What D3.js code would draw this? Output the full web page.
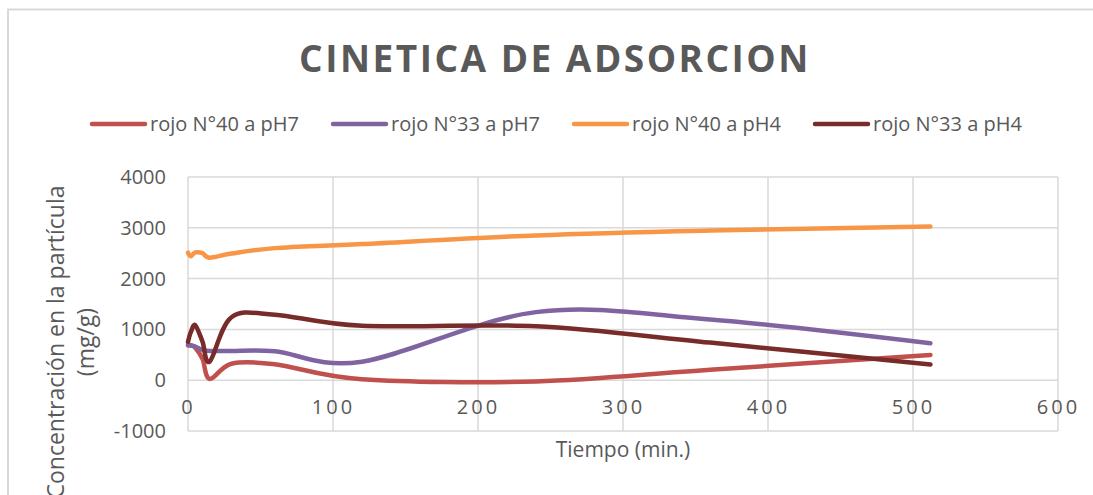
<!DOCTYPE html>
<html>
<head>
<meta charset="utf-8">
<script src="https://cdn.jsdelivr.net/npm/d3@7"></script>
<style>
  html, body { margin: 0; padding: 0; background: #fff; }
  svg { display: block; }
  text { font-family: "Open Sans", "Noto Sans", sans-serif; fill: #595959; }
</style>
</head>
<body>
<svg id="chart" width="1093" height="495"></svg>
<script>
// Sampling times (min.)
const tiempos = [0, 2, 5, 10, 15, 30, 60, 120, 240, 360, 512];

// Adsorbed concentration (mg/g) for each dye / pH
const rojo40pH7 = [689, 680, 640, 420, 25, 325, 315, 20, -25, 205, 498];
const rojo33pH7 = [689, 690, 660, 600, 577, 577, 571, 365, 1340, 1196, 728];
const rojo40pH4 = [2510, 2440, 2515, 2500, 2412, 2494, 2600, 2680, 2850, 2945, 3025];
const rojo33pH4 = [754, 950, 1083, 760, 370, 1240, 1290, 1070, 1060, 740, 309];

const seriesNames = ["rojo N°40 a pH7", "rojo N°33 a pH7", "rojo N°40 a pH4", "rojo N°33 a pH4"];
const seriesValues = [rojo40pH7, rojo33pH7, rojo40pH4, rojo33pH4];
const seriesColors = ["#C0504D", "#8064A2", "#F79646", "#772C2A"];

const xTicks = [0, 100, 200, 300, 400, 500, 600];
const yTicks = [-1000, 0, 1000, 2000, 3000, 4000];

const svg = d3.select("#chart");

// chart frame
svg.append("path")
  .attr("d", "M8,496 V9.5 H1093")
  .attr("fill", "none")
  .attr("stroke", "#D9D9D9")
  .attr("stroke-width", 2);

const plot = { left: 188, right: 1058, top: 177, bottom: 431 };

const x = d3.scaleLinear().domain([0, 600]).range([plot.left, plot.right]);
const y = d3.scaleLinear().domain([-1000, 4000]).range([plot.bottom, plot.top]);

// plain hyphen for negatives
const fmt = d => String(d);

// title
svg.append("text")
  .attr("x", 555).attr("y", 72)
  .attr("text-anchor", "middle")
  .attr("font-size", 37)
  .attr("font-weight", "bold")
  .attr("letter-spacing", 2.5)
  .text("CINETICA DE ADSORCION");

// gridlines
const grid = svg.append("g");
grid.selectAll("line.h").data(yTicks).join("line")
  .attr("class", "h")
  .attr("x1", plot.left).attr("x2", plot.right)
  .attr("y1", d => y(d)).attr("y2", d => y(d))
  .attr("stroke", "#D9D9D9").attr("stroke-width", 1.5);
grid.selectAll("line.v").data(xTicks).join("line")
  .attr("class", "v")
  .attr("x1", d => x(d)).attr("x2", d => x(d))
  .attr("y1", plot.top).attr("y2", plot.bottom)
  .attr("stroke", "#D9D9D9").attr("stroke-width", 1.5);

// axes (labels only)
const yAxis = svg.append("g")
  .attr("transform", `translate(${plot.left - 22},0)`)
  .call(d3.axisLeft(y).tickValues(yTicks).tickSize(0).tickPadding(0).tickFormat(fmt));
yAxis.select(".domain").remove();
yAxis.selectAll("text")
  .attr("font-size", 20)
  .attr("fill", "#595959")
  .attr("font-family", "\"Open Sans\", sans-serif");

const xAxis = svg.append("g")
  .attr("transform", `translate(0,${y(0)})`)
  .call(d3.axisBottom(x).tickValues(xTicks).tickSize(0).tickPadding(20).tickFormat(fmt));
xAxis.select(".domain").remove();
xAxis.selectAll("text")
  .attr("font-size", 20)
  .attr("letter-spacing", 3)
  .attr("fill", "#595959")
  .attr("font-family", "\"Open Sans\", sans-serif");

// axis titles
svg.append("text")
  .attr("x", (plot.left + plot.right) / 2).attr("y", 457)
  .attr("text-anchor", "middle")
  .attr("font-size", 21)
  .text("Tiempo (min.)");

const yTitle = svg.append("g").attr("transform", "translate(0,342) rotate(-90)");
yTitle.append("text")
  .attr("x", 0).attr("y", 64)
  .attr("text-anchor", "middle")
  .attr("font-size", 23)
  .text("Concentración en la partícula");
yTitle.append("text")
  .attr("x", 0).attr("y", 94)
  .attr("text-anchor", "middle")
  .attr("font-size", 23)
  .text("(mg/g)");

// series lines, smoothed
const line = d3.line()
  .x(d => x(d[0]))
  .y(d => y(d[1]))
  .curve(d3.curveCardinal.tension(0));

svg.append("g").selectAll("path").data(seriesValues).join("path")
  .attr("d", vals => line(tiempos.map((t, i) => [t, vals[i]])))
  .attr("fill", "none")
  .attr("stroke", (d, i) => seriesColors[i])
  .attr("stroke-width", 4.5)
  .attr("stroke-linecap", "round")
  .attr("stroke-linejoin", "round");

// legend
const legendX = [92, 333, 574, 815];
const legend = svg.append("g").selectAll("g").data(seriesNames).join("g")
  .attr("transform", (d, i) => `translate(${legendX[i]},124)`);
legend.append("line")
  .attr("x1", 0).attr("x2", 53)
  .attr("stroke", (d, i) => seriesColors[i])
  .attr("stroke-width", 4.5)
  .attr("stroke-linecap", "round");
legend.append("text")
  .attr("x", 58).attr("y", 7)
  .attr("font-size", 20)
  .text(d => d);
</script>
</body>
</html>
